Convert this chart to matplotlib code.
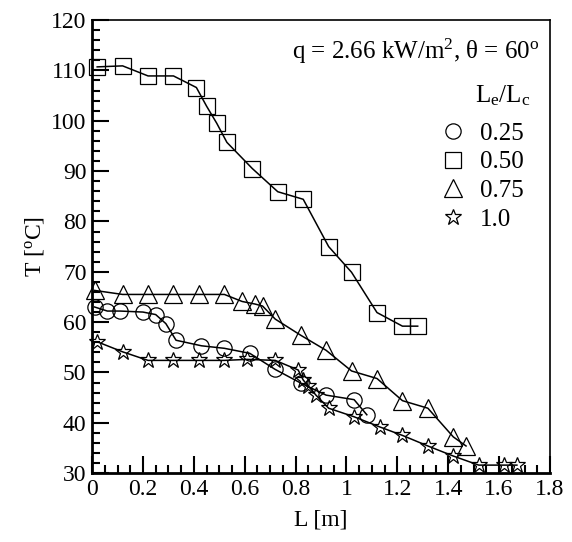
import matplotlib
matplotlib.use("Agg")
import matplotlib.pyplot as plt
from matplotlib.lines import Line2D
from matplotlib.ticker import MultipleLocator

plt.rcParams["font.family"] = ["Liberation Serif", "DejaVu Serif"]
plt.rcParams["mathtext.fontset"] = "custom"
plt.rcParams["mathtext.rm"] = "Liberation Serif"
plt.rcParams["mathtext.it"] = "Liberation Serif:italic"

# Le/Lc = 0.25 (circles)
x_025 = [0.01, 0.06, 0.11, 0.20, 0.25, 0.29, 0.33, 0.43, 0.52, 0.62, 0.72, 0.82, 0.92, 1.03, 1.08]
t_025 = [63.0, 62.2, 62.2, 62.0, 61.5, 59.7, 56.4, 55.3, 54.8, 53.8, 50.6, 47.9, 45.5, 44.6, 41.6]

# Le/Lc = 0.50 (squares)
x_050 = [0.02, 0.12, 0.22, 0.32, 0.41, 0.45, 0.49, 0.53, 0.63, 0.73, 0.83, 0.93, 1.02, 1.12, 1.22, 1.28]
t_050 = [110.7, 110.9, 108.9, 108.9, 106.6, 102.9, 99.5, 95.7, 90.5, 85.9, 84.4, 75.0, 69.9, 61.9, 59.2, 59.2]

# Le/Lc = 0.75 (triangles)
x_075 = [0.01, 0.12, 0.22, 0.32, 0.42, 0.52, 0.59, 0.64, 0.67, 0.72, 0.82, 0.92, 1.02, 1.12, 1.22, 1.32, 1.42, 1.47]
t_075 = [66.3, 65.5, 65.5, 65.5, 65.5, 65.5, 64.1, 63.6, 63.2, 60.6, 57.4, 54.4, 50.3, 48.8, 44.4, 42.9, 37.2, 35.4]

# Le/Lc = 1.0 (stars)
x_100 = [0.02, 0.12, 0.22, 0.32, 0.42, 0.52, 0.61, 0.72, 0.81, 0.83, 0.85, 0.88, 0.93, 1.03, 1.13,
         1.22, 1.32, 1.42, 1.52, 1.62, 1.67]
t_100 = [56.1, 54.1, 52.4, 52.4, 52.4, 52.4, 52.6, 52.4, 50.5, 48.5, 47.3, 45.5, 42.9, 41.2, 39.2,
         37.5, 35.4, 33.4, 31.6, 31.6, 31.6]

labels = ["0.25", "0.50", "0.75", "1.0"]
markers = ["o", "s", "^", "*"]
msizes = [11, 11.5, 13, 12]

series = [(x_025, t_025), (x_050, t_050), (x_075, t_075), (x_100, t_100)]

fig = plt.figure(figsize=(5.72, 5.42), dpi=100)
ax = fig.add_axes([0.161, 0.127, 0.8005, 0.836])

for (xs, ts), m, ms in zip(series, markers, msizes):
    ax.plot(xs, ts, color="black", lw=1.1, zorder=2)
    ax.plot(xs, ts, ls="none", marker=m, ms=ms, mfc="none", mec="black", mew=0.9,
            clip_on=False, zorder=3)

ax.set_xlim(0, 1.8)
ax.set_ylim(30, 120)
ax.xaxis.set_minor_locator(MultipleLocator(0.05))
ax.yaxis.set_major_locator(MultipleLocator(10))
ax.yaxis.set_minor_locator(MultipleLocator(2))
ax.set_xticks([0, 0.2, 0.4, 0.6, 0.8, 1.0, 1.2, 1.4, 1.6, 1.8])
ax.set_xticklabels(["0", "0.2", "0.4", "0.6", "0.8", "1", "1.2", "1.4", "1.6", "1.8"])

ax.tick_params(which="both", direction="in", top=False, right=False, labelsize=17, width=1.5)
ax.tick_params(which="major", length=12, pad=4)
ax.tick_params(which="minor", length=6)
for side in ("left", "bottom"):
    ax.spines[side].set_linewidth(2)
for side in ("top", "right"):
    ax.spines[side].set_linewidth(1.2)

ax.set_xlabel("L [m]", fontsize=17, labelpad=7)
ax.set_ylabel("T [$^{\\rm o}$C]", fontsize=17, labelpad=4)

ax.text(0.978, 0.93, "q = 2.66 kW/m$^{\\rm 2}$, θ = 60$^{\\rm o}$", transform=ax.transAxes,
        ha="right", va="center", fontsize=18)
ax.text(0.957, 0.834, "L$_{\\rm e}$/L$_{\\rm c}$", transform=ax.transAxes,
        ha="right", va="center", fontsize=18)

handles = [Line2D([], [], ls="none", marker=m, ms=ms, mfc="none", mec="black", mew=0.9)
           for m, ms in zip(markers, msizes)]
ax.legend(handles, labels, loc="upper left", bbox_to_anchor=(0.76, 0.775), frameon=False,
          fontsize=18, handlelength=1.0, handletextpad=0.6, labelspacing=0.25,
          borderpad=0, borderaxespad=0)

fig.savefig("out.png", dpi=100)
